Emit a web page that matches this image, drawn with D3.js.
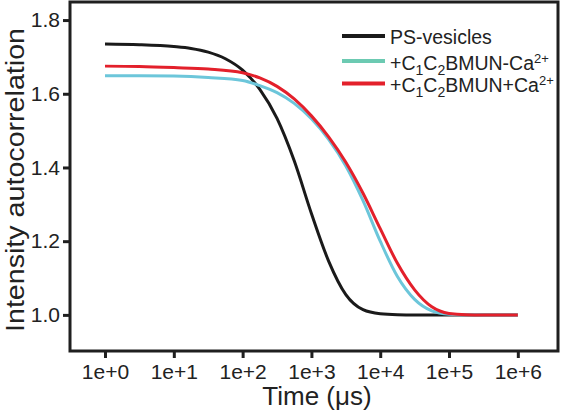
<!DOCTYPE html>
<html>
<head>
<meta charset="utf-8">
<script src="https://cdn.jsdelivr.net/npm/d3@7"></script>
<style>
  html, body { margin: 0; padding: 0; background: #fff; }
  svg { display: block; font-family: "Liberation Sans", Arial, sans-serif; }
</style>
</head>
<body>
<svg id="chart" width="562" height="416"></svg>
<script>
// ---- data (time as log10 exponent of µs, value = autocorrelation) ----
const xTickExponents = [0, 1, 2, 3, 4, 5, 6];
const yTickValues = [1.0, 1.2, 1.4, 1.6, 1.8];

const blackExp = [0, 0.5, 1.0, 1.25, 1.5, 1.75, 2.0, 2.25, 2.5, 2.75, 3.0, 3.25, 3.5, 3.75, 4.0, 4.25, 4.5, 5, 6];
const blackVal = [1.735, 1.733, 1.728, 1.723, 1.713, 1.695, 1.664, 1.612, 1.533, 1.418, 1.275, 1.146, 1.055, 1.014, 1.003, 1.0005, 1.0, 1.0, 1.0];

const cyanExp = [0, 0.5, 1.0, 1.5, 2.0, 2.25, 2.5, 2.75, 3.0, 3.25, 3.5, 3.75, 4.0, 4.25, 4.5, 4.75, 5.0, 5.25, 5.5, 6];
const cyanVal = [1.649, 1.649, 1.648, 1.644, 1.636, 1.622, 1.603, 1.574, 1.532, 1.476, 1.404, 1.310, 1.200, 1.104, 1.042, 1.011, 1.002, 1.0003, 1.0, 1.0];

const redExp = [0, 0.5, 1.0, 1.5, 2.0, 2.25, 2.5, 2.75, 3.0, 3.25, 3.5, 3.75, 4.0, 4.25, 4.5, 4.75, 5.0, 5.25, 5.5, 6];
const redVal = [1.675, 1.674, 1.671, 1.667, 1.657, 1.643, 1.620, 1.586, 1.540, 1.483, 1.414, 1.330, 1.234, 1.140, 1.068, 1.022, 1.004, 1.0005, 1.0, 1.0];

const seriesNames = ["PS-vesicles", "+C1C2BMUN-Ca2+", "+C1C2BMUN+Ca2+"];

// ---- layout ----
const svg = d3.select("#chart");
const mLeft = 70, mRight = 558, mTop = 2, mBottom = 351;

const x = d3.scaleLog()
  .domain([Math.pow(10, -0.509), Math.pow(10, 6.584)])
  .range([mLeft, mRight]);
const y = d3.scaleLinear()
  .domain([0.902, 1.849])
  .range([mBottom, mTop]);

svg.append("rect").attr("width", 562).attr("height", 416).attr("fill", "#fff");

// curves
const line = d3.line()
  .x(d => x(Math.pow(10, d[0])))
  .y(d => y(d[1]))
  .curve(d3.curveMonotoneX);

const series = [
  { e: blackExp, v: blackVal, color: "#1a1a1a" },
  { e: cyanExp, v: cyanVal, color: "#6cc6da" },
  { e: redExp, v: redVal, color: "#e3202b" }
];
series.forEach(s => {
  svg.append("path")
    .datum(s.e.map((e, i) => [e, s.v[i]]))
    .attr("fill", "none")
    .attr("stroke", s.color)
    .attr("stroke-width", 3)
    .attr("stroke-linejoin", "round")
    .attr("d", line);
});

// frame
svg.append("rect")
  .attr("x", mLeft).attr("y", mTop)
  .attr("width", mRight - mLeft).attr("height", mBottom - mTop)
  .attr("fill", "none").attr("stroke", "#1f1f1f").attr("stroke-width", 3);

// x axis
const xAxis = d3.axisBottom(x)
  .tickValues(xTickExponents.map(e => Math.pow(10, e)))
  .tickFormat((d, i) => "1e+" + xTickExponents[i])
  .tickSize(7).tickPadding(6);
const gx = svg.append("g").attr("transform", `translate(0,${mBottom})`).call(xAxis);
gx.select(".domain").remove();
gx.selectAll(".tick line").attr("stroke", "#1f1f1f").attr("stroke-width", 3);
gx.selectAll(".tick text").attr("font-size", 21).attr("fill", "#222")
  .attr("font-family", "'Liberation Sans', Arial, sans-serif");

// y axis
const yAxis = d3.axisLeft(y)
  .tickValues(yTickValues)
  .tickFormat(d3.format(".1f"))
  .tickSize(7).tickPadding(3);
const gy = svg.append("g").attr("transform", `translate(${mLeft},0)`).call(yAxis);
gy.select(".domain").remove();
gy.selectAll(".tick line").attr("stroke", "#1f1f1f").attr("stroke-width", 3);
gy.selectAll(".tick text").attr("font-size", 21).attr("fill", "#222")
  .attr("font-family", "'Liberation Sans', Arial, sans-serif");

// axis titles
svg.append("text")
  .attr("x", 317).attr("y", 405)
  .attr("text-anchor", "middle")
  .attr("font-size", 26).attr("fill", "#222")
  .text("Time (\u03BCs)");

svg.append("text")
  .attr("transform", "translate(24,180) rotate(-90)")
  .attr("text-anchor", "middle")
  .attr("font-size", 25).attr("fill", "#222")
  .attr("textLength", 304).attr("lengthAdjust", "spacingAndGlyphs")
  .text("Intensity autocorrelation");

// legend
const legendColors = ["#1a1a1a", "#6ccab2", "#e3202b"];
const legendLineY = [36, 61, 83.5];
const legendBase = [43.5, 69.5, 91.5];
const lg = svg.append("g");
legendColors.forEach((c, i) => {
  lg.append("line")
    .attr("x1", 342).attr("x2", 385)
    .attr("y1", legendLineY[i]).attr("y2", legendLineY[i])
    .attr("stroke", c).attr("stroke-width", 4);
});
const fs = 19.5;
lg.append("text").attr("x", 390).attr("y", legendBase[0])
  .attr("font-size", fs).attr("fill", "#222").text(seriesNames[0]);

function chem(i, sign) {
  const t = lg.append("text").attr("x", 390).attr("y", legendBase[i])
    .attr("font-size", fs).attr("fill", "#222");
  t.append("tspan").text("+C");
  t.append("tspan").attr("font-size", 14).attr("dy", 5).text("1");
  t.append("tspan").attr("dy", -5).text("C");
  t.append("tspan").attr("font-size", 14).attr("dy", 5).text("2");
  t.append("tspan").attr("dy", -5).text("BMUN" + sign + "Ca");
  t.append("tspan").attr("font-size", 13).attr("dy", -7).text("2+");
}
chem(1, "-");
chem(2, "+");
</script>
</body>
</html>
